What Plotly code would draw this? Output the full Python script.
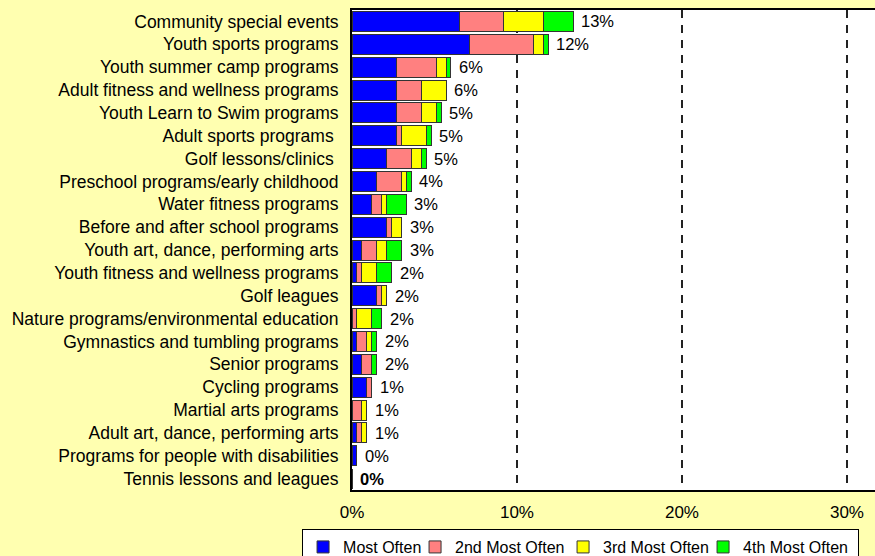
import plotly.graph_objects as go

# categorias, de arriba hacia abajo
programas = [
    "Community special events",
    "Youth sports programs",
    "Youth summer camp programs",
    "Adult fitness and wellness programs",
    "Youth Learn to Swim programs",
    "Adult sports programs\u00a0",
    "Golf lessons/clinics\u00a0",
    "Preschool programs/early childhood",
    "Water fitness programs",
    "Before and after school programs",
    "Youth art, dance, performing arts",
    "Youth fitness and wellness programs",
    "Golf leagues",
    "Nature programs/environmental education",
    "Gymnastics and tumbling programs",
    "Senior programs",
    "Cycling programs",
    "Martial arts programs",
    "Adult art, dance, performing arts",
    "Programs for people with disabilities",
    "Tennis lessons and leagues",
]

# porcentajes
most_often = [6.5, 7.1, 2.7, 2.7, 2.7, 2.7, 2.1, 1.5, 1.2, 2.1, 0.6, 0.3, 1.5, 0.0, 0.3, 0.6, 0.9, 0.0, 0.3, 0.3, 0.0]
second_most = [2.7, 3.9, 2.4, 1.5, 1.5, 0.3, 1.5, 1.5, 0.6, 0.3, 0.9, 0.3, 0.3, 0.3, 0.6, 0.6, 0.3, 0.6, 0.3, 0.0, 0.0]
third_most = [2.4, 0.6, 0.6, 1.5, 0.9, 1.5, 0.6, 0.3, 0.3, 0.6, 0.6, 0.9, 0.3, 0.9, 0.3, 0.0, 0.0, 0.3, 0.3, 0.0, 0.0]
fourth_most = [1.8, 0.3, 0.3, 0.0, 0.3, 0.3, 0.3, 0.3, 1.2, 0.0, 0.9, 0.9, 0.0, 0.6, 0.3, 0.3, 0.0, 0.0, 0.0, 0.0, 0.0]

etiquetas = ["13%", "12%", "6%", "6%", "5%", "5%", "5%", "4%", "3%", "3%", "3%",
             "2%", "2%", "2%", "2%", "2%", "1%", "1%", "1%", "0%", "<b>0%</b>"]

x_ticks = [0, 10, 20, 30]
x_ticktext = ["0%", "10%", "20%", "30%"]

series = [
    ("Most Often", most_often, "#0000FF", 67),
    ("2nd Most Often", second_most, "#FF8080", 103),
    ("3rd Most Often", third_most, "#FFFF00", 95),
    ("4th Most Often", fourth_most, "#00FF00", 110),
]

fig = go.Figure()
for nombre, valores, color, ancho in series:
    fig.add_trace(go.Bar(
        y=programas, x=valores, name=nombre, orientation="h",
        marker=dict(color=color, line=dict(color="#333333", width=1)),
        legendwidth=ancho,
    ))

totales = [a + b + c + d for a, b, c, d in zip(most_often, second_most, third_most, fourth_most)]
for prog, tot, txt in zip(programas, totales, etiquetas):
    fig.add_annotation(x=tot, y=prog, text=txt, showarrow=False,
                       xanchor="left", xshift=6,
                       font=dict(family="Liberation Sans, Arial", size=16.5, color="#000000"))

fig.update_layout(
    barmode="stack",
    bargap=0.125,
    width=875, height=556,
    margin=dict(l=352, r=0, t=10, b=66, autoexpand=False),
    paper_bgcolor="#FFFFB0",
    plot_bgcolor="#FFFFFF",
    font=dict(family="Liberation Sans, Arial", size=16, color="#000000"),
    showlegend=True,
    legend=dict(orientation="h", x=-0.0955, xanchor="left", y=-0.0813, yanchor="top",
                bgcolor="#FFFFFF", bordercolor="#000000", borderwidth=1,
                font=dict(size=16), itemwidth=30, traceorder="normal"),
)
fig.update_xaxes(range=[0, 31.7], tickvals=x_ticks, ticktext=x_ticktext,
                 showgrid=True, gridcolor="#222222", gridwidth=1.5, griddash="8px,7px",
                 showline=True, linecolor="#000000", linewidth=2, mirror=True,
                 zeroline=False, tickfont=dict(size=17), ticklabelstandoff=6)
fig.update_yaxes(autorange="reversed", showline=True, linecolor="#000000", linewidth=2,
                 showgrid=False, ticklabelstandoff=8, tickfont=dict(size=17.5))

fig.write_html("out.html", config={"displayModeBar": False},
               post_script="document.body.style.margin='0';document.body.style.overflow='hidden';")
